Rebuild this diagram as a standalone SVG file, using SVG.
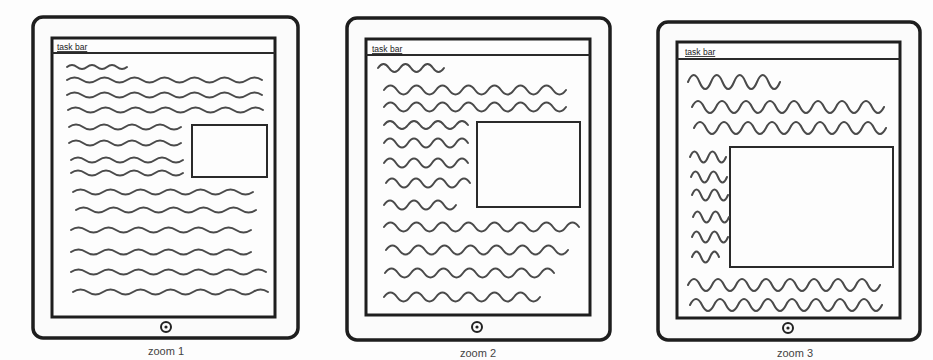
<svg xmlns="http://www.w3.org/2000/svg" width="933" height="360" viewBox="0 0 933 360">
<style>
.bg{fill:#fdfdfd}
.outer{fill:#fbfbfb;stroke:#1e1e1e;stroke-width:3.5}
.screen{fill:#fdfdfd;stroke:#1e1e1e;stroke-width:3}
.bar{stroke:#2a2a2a;stroke-width:1.8;fill:none}
.img{fill:#fdfdfd;stroke:#2a2a2a;stroke-width:2}
.w{fill:none;stroke:#4a4a4a;stroke-width:2;stroke-linecap:round;stroke-linejoin:round}
.btn{fill:none;stroke:#222;stroke-width:2}
.dot{fill:#222}
.tb{font-family:"Liberation Sans",Arial,sans-serif;font-size:8.5px;fill:#222;text-decoration:underline}
.lbl{font-family:"Liberation Sans",Arial,sans-serif;font-size:11px;fill:#444;text-anchor:middle}
</style>
<rect class="bg" x="0" y="0" width="933" height="360"/>

<g id="device1">
<rect class="outer" x="33" y="17" width="265" height="321" rx="10"/>
<rect class="screen" x="52" y="38" width="223" height="279"/>
<line class="bar" x1="52" y1="53" x2="275" y2="53"/>
<text class="tb" x="57" y="50">task bar</text>
<rect class="img" x="192" y="125" width="75" height="52"/>
<path class="w" d="M67 67 q5 -4 10 0 t10 0 t10 0 t10 0 t10 0 t10 0"/>
<path class="w" d="M67 80 q7.5 -5 15 0 t15 0 t15 0 t15 0 t15 0 t15 0 t15 0 t15 0 t15 0 t15 0 t15 0 t15 0 t15 0"/>
<path class="w" d="M67 95 q7.5 -5 15 0 t15 0 t15 0 t15 0 t15 0 t15 0 t15 0 t15 0 t15 0 t15 0 t15 0 t15 0 t15 0"/>
<path class="w" d="M68 110 q7.5 -5 15 0 t15 0 t15 0 t15 0 t15 0 t15 0 t15 0 t15 0 t15 0 t15 0 t15 0 t15 0 t15 0"/>
<path class="w" d="M69 127 q7 -5 14 0 t14 0 t14 0 t14 0 t14 0 t14 0 t14 0 t14 0"/>
<path class="w" d="M69 143 q7 -5 14 0 t14 0 t14 0 t14 0 t14 0 t14 0 t14 0 t14 0"/>
<path class="w" d="M71 160 q7 -5 14 0 t14 0 t14 0 t14 0 t14 0 t14 0 t14 0 t14 0"/>
<path class="w" d="M71 173 q7 -5 14 0 t14 0 t14 0 t14 0 t14 0 t14 0 t14 0 t14 0"/>
<path class="w" d="M73 192 q7.5 -5 15 0 t15 0 t15 0 t15 0 t15 0 t15 0 t15 0 t15 0 t15 0 t15 0 t15 0 t15 0"/>
<path class="w" d="M76 210 q7.5 -5 15 0 t15 0 t15 0 t15 0 t15 0 t15 0 t15 0 t15 0 t15 0 t15 0 t15 0 t15 0"/>
<path class="w" d="M71 230 q7.5 -5 15 0 t15 0 t15 0 t15 0 t15 0 t15 0 t15 0 t15 0 t15 0 t15 0 t15 0 t15 0"/>
<path class="w" d="M71 252 q7.5 -5 15 0 t15 0 t15 0 t15 0 t15 0 t15 0 t15 0 t15 0 t15 0 t15 0 t15 0 t15 0"/>
<path class="w" d="M71 272 q7.5 -5 15 0 t15 0 t15 0 t15 0 t15 0 t15 0 t15 0 t15 0 t15 0 t15 0 t15 0 t15 0 t15 0"/>
<path class="w" d="M73 292 q7.5 -5 15 0 t15 0 t15 0 t15 0 t15 0 t15 0 t15 0 t15 0 t15 0 t15 0 t15 0 t15 0 t15 0"/>
<circle class="btn" cx="166" cy="327" r="5"/>
<circle class="dot" cx="166" cy="327" r="1.6"/>
<text class="lbl" x="166" y="355">zoom 1</text>
</g>

<g id="device2">
<rect class="outer" x="347" y="18" width="263" height="322" rx="10"/>
<rect class="screen" x="366" y="39" width="224" height="276"/>
<line class="bar" x1="366" y1="55" x2="590" y2="55"/>
<text class="tb" x="372" y="52">task bar</text>
<rect class="img" x="477" y="122" width="103" height="85"/>
<path class="w" d="M378 68 q5.5 -8 11 0 t11 0 t11 0 t11 0 t11 0 t11 0"/>
<path class="w" d="M384 90 q6.5 -9 13 0 t13 0 t13 0 t13 0 t13 0 t13 0 t13 0 t13 0 t13 0 t13 0 t13 0 t13 0 t13 0 t13 0"/>
<path class="w" d="M384 107 q6.5 -9 13 0 t13 0 t13 0 t13 0 t13 0 t13 0 t13 0 t13 0 t13 0 t13 0 t13 0 t13 0 t13 0 t13 0"/>
<path class="w" d="M384 125 q6 -8 12 0 t12 0 t12 0 t12 0 t12 0 t12 0 t12 0"/>
<path class="w" d="M384 143 q6 -9 12 0 t12 0 t12 0 t12 0 t12 0 t12 0 t12 0"/>
<path class="w" d="M384 163 q6 -9 12 0 t12 0 t12 0 t12 0 t12 0 t12 0 t12 0"/>
<path class="w" d="M386 183 q6 -9 12 0 t12 0 t12 0 t12 0 t12 0 t12 0 t12 0"/>
<path class="w" d="M384 205 q6 -9 12 0 t12 0 t12 0 t12 0 t12 0 t12 0"/>
<path class="w" d="M384 227 q6.5 -9 13 0 t13 0 t13 0 t13 0 t13 0 t13 0 t13 0 t13 0 t13 0 t13 0 t13 0 t13 0 t13 0 t13 0 t13 0"/>
<path class="w" d="M386 250 q6.5 -9 13 0 t13 0 t13 0 t13 0 t13 0 t13 0 t13 0 t13 0 t13 0 t13 0 t13 0 t13 0 t13 0 t13 0"/>
<path class="w" d="M385 273 q6.5 -9 13 0 t13 0 t13 0 t13 0 t13 0 t13 0 t13 0 t13 0 t13 0 t13 0 t13 0 t13 0 t13 0"/>
<path class="w" d="M384 297 q6.5 -9 13 0 t13 0 t13 0 t13 0 t13 0 t13 0 t13 0 t13 0 t13 0 t13 0 t13 0 t13 0"/>
<circle class="btn" cx="477" cy="327" r="5"/>
<circle class="dot" cx="477" cy="327" r="1.6"/>
<text class="lbl" x="478" y="357">zoom 2</text>
</g>

<g id="device3">
<rect class="outer" x="658" y="22" width="262" height="318" rx="10"/>
<rect class="screen" x="677" y="42" width="223" height="276"/>
<line class="bar" x1="677" y1="59" x2="900" y2="59"/>
<text class="tb" x="685" y="55">task bar</text>
<rect class="img" x="730" y="147" width="163" height="120"/>
<path class="w" d="M688 82 q5.75 -14 11.5 0 t11.5 0 t11.5 0 t11.5 0 t11.5 0 t11.5 0 t11.5 0 t11.5 0"/>
<path class="w" d="M692 107 q6 -12 12 0 t12 0 t12 0 t12 0 t12 0 t12 0 t12 0 t12 0 t12 0 t12 0 t12 0 t12 0 t12 0 t12 0 t12 0 t12 0"/>
<path class="w" d="M694 128 q6 -12 12 0 t12 0 t12 0 t12 0 t12 0 t12 0 t12 0 t12 0 t12 0 t12 0 t12 0 t12 0 t12 0 t12 0 t12 0 t12 0"/>
<path class="w" d="M690 157 q4.5 -11 9 0 t9 0 t9 0 t9 0"/>
<path class="w" d="M691 177 q4.5 -11 9 0 t9 0 t9 0 t9 0"/>
<path class="w" d="M692 195 q4.5 -11 9 0 t9 0 t9 0 t9 0"/>
<path class="w" d="M693 217 q4.5 -11 9 0 t9 0 t9 0 t9 0"/>
<path class="w" d="M692 237 q4.5 -11 9 0 t9 0 t9 0 t9 0"/>
<path class="w" d="M692 257 q4.5 -11 9 0 t9 0 t9 0"/>
<path class="w" d="M688 285 q6 -12 12 0 t12 0 t12 0 t12 0 t12 0 t12 0 t12 0 t12 0 t12 0 t12 0 t12 0 t12 0 t12 0 t12 0 t12 0 t12 0"/>
<path class="w" d="M690 305 q6 -12 12 0 t12 0 t12 0 t12 0 t12 0 t12 0 t12 0 t12 0 t12 0 t12 0 t12 0 t12 0 t12 0 t12 0 t12 0 t12 0"/>
<circle class="btn" cx="788" cy="328" r="5"/>
<circle class="dot" cx="788" cy="328" r="1.6"/>
<text class="lbl" x="795" y="357">zoom 3</text>
</g>
</svg>
